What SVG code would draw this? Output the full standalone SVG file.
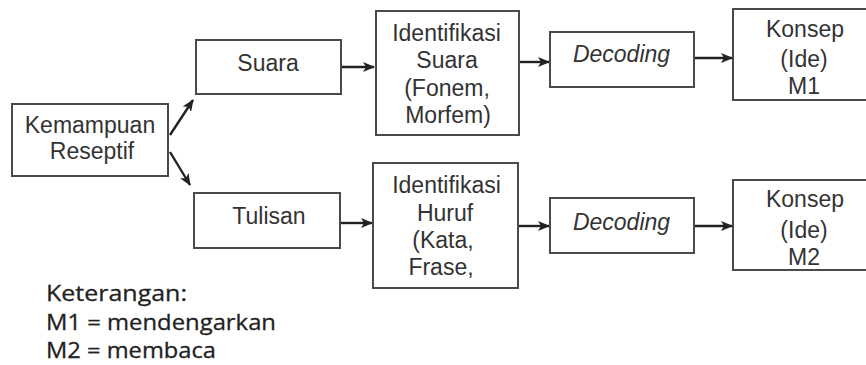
<svg xmlns="http://www.w3.org/2000/svg" width="866" height="365" viewBox="0 0 866 365">
<defs>
<marker id="ah" markerWidth="12" markerHeight="10" refX="11" refY="5" orient="auto" markerUnits="userSpaceOnUse">
<path d="M0,0 L12,5 L0,10 L3,5 Z" fill="#222"/>
</marker>
<style>
.box{fill:#fff;stroke:#4a4a4a;stroke-width:2}
.t{font-family:"Liberation Sans",Arial,sans-serif;font-size:23px;fill:#333;text-anchor:middle}
.i{font-style:italic}
.c{stroke:#222;stroke-width:2.4;fill:none;marker-end:url(#ah)}
.leg{font-family:"Open Sans","Noto Sans",sans-serif;font-size:22px;fill:#222;stroke:#222;stroke-width:0.3}
</style>
</defs>
<rect width="866" height="365" fill="#fff"/>
<g id="connectors">
<line class="c" x1="170" y1="135" x2="193" y2="100"/>
<line class="c" x1="170" y1="152" x2="190" y2="185"/>
<line class="c" x1="341" y1="67" x2="374" y2="67"/>
<line class="c" x1="519" y1="62" x2="549" y2="62"/>
<line class="c" x1="694" y1="58" x2="732" y2="58"/>
<line class="c" x1="340" y1="223" x2="372" y2="223"/>
<line class="c" x1="518" y1="226" x2="549" y2="226"/>
<line class="c" x1="694" y1="226" x2="732" y2="226"/>
</g>
<g id="kemampuan">
<rect class="box" x="12" y="104" width="156" height="72"/>
<text class="t" x="90" y="133">Kemampuan</text>
<text class="t" x="92" y="159">Reseptif</text>
</g>
<g id="suara">
<rect class="box" x="196" y="40" width="145" height="54"/>
<text class="t" x="268" y="71">Suara</text>
</g>
<g id="tulisan">
<rect class="box" x="194" y="193" width="146" height="55"/>
<text class="t" x="269" y="224">Tulisan</text>
</g>
<g id="identifikasi-suara">
<rect class="box" x="376" y="11" width="143" height="124"/>
<text class="t" x="446.5" y="41">Identifikasi</text>
<text class="t" x="447" y="68">Suara</text>
<text class="t" x="447" y="96">(Fonem,</text>
<text class="t" x="448" y="123">Morfem)</text>
</g>
<g id="identifikasi-huruf">
<rect class="box" x="373" y="163" width="145" height="125"/>
<text class="t" x="446.5" y="193">Identifikasi</text>
<text class="t" x="445" y="221">Huruf</text>
<text class="t" x="443" y="248">(Kata,</text>
<text class="t" x="441" y="275">Frase,</text>
</g>
<g id="decoding-1">
<rect class="box" x="550" y="32" width="144" height="55"/>
<text class="t i" x="621.5" y="62">Decoding</text>
</g>
<g id="decoding-2">
<rect class="box" x="550" y="198" width="144" height="55"/>
<text class="t i" x="621.5" y="230">Decoding</text>
</g>
<g id="konsep-1">
<rect class="box" x="733" y="9" width="150" height="91"/>
<text class="t" x="805" y="37">Konsep</text>
<text class="t" x="804" y="67">(Ide)</text>
<text class="t" x="804" y="94">M1</text>
</g>
<g id="konsep-2">
<rect class="box" x="733" y="180" width="150" height="90"/>
<text class="t" x="805" y="207">Konsep</text>
<text class="t" x="804" y="238">(Ide)</text>
<text class="t" x="804" y="265">M2</text>
</g>
<g id="legend">
<text class="leg" x="46" y="301" textLength="141" lengthAdjust="spacingAndGlyphs">Keterangan:</text>
<text class="leg" x="46" y="330" textLength="230" lengthAdjust="spacingAndGlyphs">M1 = mendengarkan</text>
<text class="leg" x="46" y="358" textLength="170" lengthAdjust="spacingAndGlyphs">M2 = membaca</text>
</g>
</svg>
